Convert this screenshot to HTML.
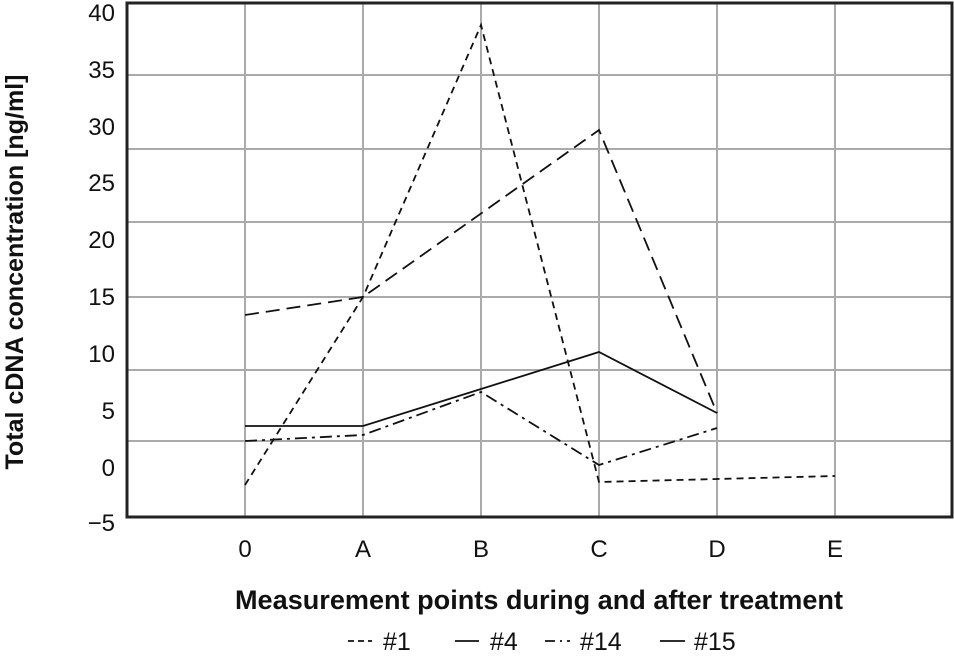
<!DOCTYPE html>
<html><head><meta charset="utf-8"><style>
body{margin:0;background:#fff;}
svg text{font-family:"Liberation Sans",sans-serif;fill:#111;}
</style></head><body>
<svg width="954" height="655" viewBox="0 0 954 655" xmlns="http://www.w3.org/2000/svg">
<g stroke="#aaa" stroke-width="2">
<line x1="127" y1="75" x2="952" y2="75"/><line x1="127" y1="149" x2="952" y2="149"/>
<line x1="127" y1="222" x2="952" y2="222"/><line x1="127" y1="297" x2="952" y2="297"/>
<line x1="127" y1="370" x2="952" y2="370"/><line x1="127" y1="441" x2="952" y2="441"/>
<line x1="245" y1="3" x2="245" y2="517"/><line x1="363" y1="3" x2="363" y2="517"/>
<line x1="481" y1="3" x2="481" y2="517"/><line x1="599" y1="3" x2="599" y2="517"/>
<line x1="717" y1="3" x2="717" y2="517"/><line x1="835" y1="3" x2="835" y2="517"/>
</g>
<rect x="127" y="3" width="825" height="514" fill="none" stroke="#222" stroke-width="3"/>
<g fill="none" stroke="#111" stroke-width="1.8">
<polyline points="245,485 363,297 481,25 599,482 717,479 835,476" stroke-dasharray="7,5"/>
<polyline points="245,315 363,297 599,130 717,413" stroke-dasharray="14,7"/>
<polyline points="245,426 363,426 481,389 599,352 717,413"/>
<polyline points="245,441 363,435 481,392 599,465 717,428" stroke-dasharray="12,5,3,5"/>
</g>
<g font-size="24" text-anchor="end">
<text x="115" y="21">40</text><text x="115" y="78">35</text><text x="115" y="135">30</text>
<text x="115" y="191">25</text><text x="115" y="248">20</text><text x="115" y="305">15</text>
<text x="115" y="362">10</text><text x="115" y="419">5</text><text x="115" y="476">0</text>
<text x="115" y="531">−5</text>
</g>
<g font-size="24" text-anchor="middle">
<text x="245" y="557">0</text><text x="363" y="557">A</text><text x="481" y="557">B</text>
<text x="599" y="557">C</text><text x="717" y="557">D</text><text x="835" y="557">E</text>
</g>
<text x="539" y="609" font-size="27" font-weight="bold" text-anchor="middle" textLength="608" lengthAdjust="spacingAndGlyphs">Measurement points during and after treatment</text>
<text transform="translate(23,272) rotate(-90)" font-size="25" font-weight="bold" text-anchor="middle" textLength="395" lengthAdjust="spacingAndGlyphs">Total cDNA concentration [ng/ml]</text>
<g stroke="#111" stroke-width="1.8">
<line x1="348" y1="641" x2="372" y2="641" stroke-dasharray="6,4"/>
<line x1="455" y1="641" x2="479" y2="641"/>
<line x1="545" y1="641" x2="570" y2="641" stroke-dasharray="10,5,2,5"/>
<line x1="660" y1="641" x2="685" y2="641"/>
</g>
<g font-size="25">
<text x="383" y="650">#1</text><text x="490" y="650">#4</text>
<text x="580" y="650">#14</text><text x="694" y="650">#15</text>
</g>
</svg>
</body></html>
